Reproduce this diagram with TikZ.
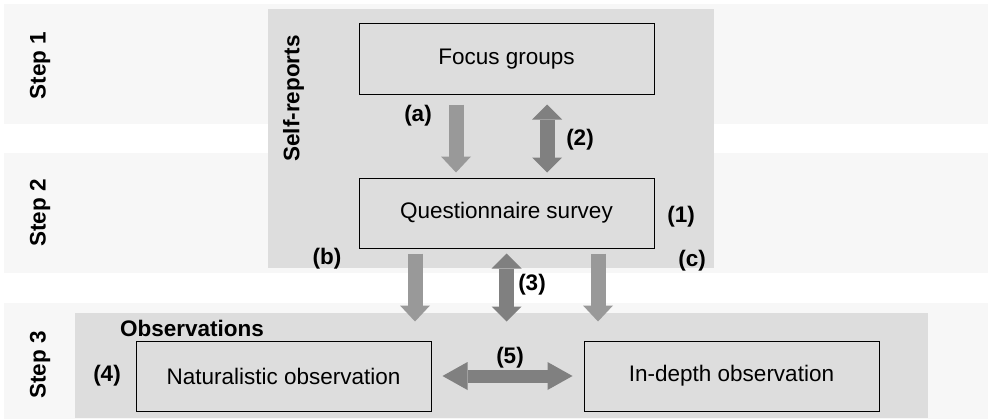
\documentclass[tikz,border=0pt]{standalone}
\usepackage{fontspec}
\setmainfont{Liberation Sans}
\usetikzlibrary{arrows.meta}
\definecolor{bandgray}{HTML}{F7F7F7}
\definecolor{panelgray}{HTML}{DDDDDD}
\definecolor{flowgray}{HTML}{999999}
\definecolor{linkgray}{HTML}{808080}
\tikzstyle{method} = [draw,line width=1pt,minimum width=295pt,minimum height=70pt,inner sep=0pt]
\tikzstyle{tag} = [font=\fontsize{22.5}{27}\selectfont\bfseries,inner sep=0pt]
\tikzstyle{flow} = [flowgray,line width=15pt,-{Triangle[width=30pt,length=16pt,line width=0pt]}]
\tikzstyle{link} = [linkgray,line width=15pt,{Triangle[width=30pt,length=15pt,line width=0pt]}-{Triangle[width=30pt,length=15pt,line width=0pt]}]
\tikzstyle{wide link} = [linkgray,line width=13pt,{Triangle[width=28pt,length=25pt,line width=0pt]}-{Triangle[width=28pt,length=25pt,line width=0pt]}]

\begin{document}
\begin{tikzpicture}[x=1pt,y=-1pt,every node/.style={font=\fontsize{22.5}{27}\selectfont}]
\useasboundingbox (0,0) rectangle (988,420);

% step bands
\fill[bandgray] (4,4) rectangle (988,124);
\fill[bandgray] (4,153) rectangle (988,273);
\fill[bandgray] (4,303) rectangle (988,419);

% method panels
\fill[panelgray] (268,9) rectangle (714,268);
\fill[panelgray] (75,313) rectangle (928,418);

\node[tag,rotate=90] (step1) at (40,65.5) {Step 1};
\node[tag,rotate=90] (step2) at (40,213) {Step 2};
\node[tag,rotate=90] (step3) at (40,365) {Step 3};
\node[tag,rotate=90] (selfrep) at (293.5,98.5) {Self-reports};
\node[tag,anchor=west] (obslabel) at (120,328) {Observations};

\node[method] (focus) at (506.5,59) {Focus groups};
\node[method] (survey) at (506.5,213) {Questionnaire survey};
\node[method] (natural) at (283.5,376) {Naturalistic observation};
\node[method] (indepth) at (731.5,376) {In-depth observation};

\draw[flow,shorten <=10pt,shorten >=5pt] ([xshift=-50.5pt]focus.south) -- ([xshift=-50.5pt]survey.north);
\draw[link,shorten <=10pt,shorten >=5pt] ([xshift=40.5pt]focus.south) -- ([xshift=40.5pt]survey.north);
\draw[flow,shorten <=5pt,shorten >=19pt] ([xshift=-91.5pt]survey.south) -- ([xshift=131.5pt]natural.north);
\draw[link,shorten <=5pt,shorten >=19pt] (survey.south) -- (survey.south |- natural.north);
\draw[flow,shorten <=5pt,shorten >=19pt] ([xshift=91.5pt]survey.south) -- ([xshift=-133.5pt]indepth.north);
\draw[wide link,shorten <=11pt,shorten >=11pt] (natural.east) -- (indepth.west);

\node[tag] (la) at (418,116) {(a)};
\node[tag] (l2) at (580,140) {(2)};
\node[tag] (l1) at (681,217) {(1)};
\node[tag] (lb) at (327,259) {(b)};
\node[tag] (lc) at (692,261) {(c)};
\node[tag] (l3) at (532,285) {(3)};
\node[tag] (l4) at (107,376) {(4)};
\node[tag] (l5) at (510,358) {(5)};
\end{tikzpicture}
\end{document}
